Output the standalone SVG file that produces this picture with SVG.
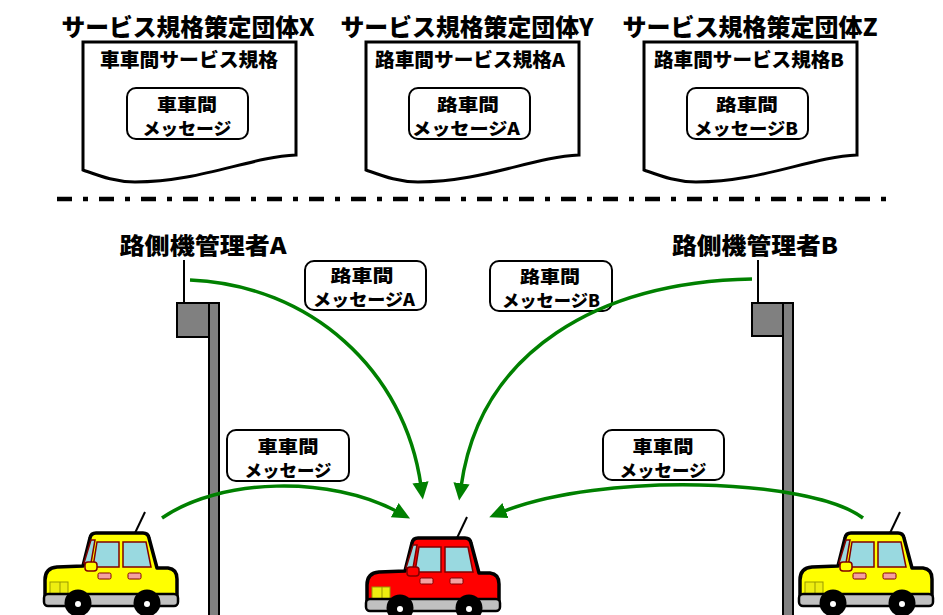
<svg xmlns="http://www.w3.org/2000/svg" xmlns:xlink="http://www.w3.org/1999/xlink" width="943" height="615" viewBox="0 0 943 615">
<style>
text{font-family:"Noto Sans CJK JP","Noto Sans CJK SC",sans-serif;font-weight:900;fill:#000;text-anchor:middle}
.t24{font-size:24px}
.t23{font-size:23px}
.t19{font-size:19px}
.t18{font-size:17px}
.doc{fill:#fff;stroke:#000;stroke-width:3;stroke-linejoin:miter}
.box{fill:#fff;stroke:#000;stroke-width:2}
.pole{fill:#808080;stroke:#000;stroke-width:2}
.arrow{fill:none;stroke:#008000;stroke-width:3.5;marker-end:url(#ah)}
.win{fill:#99D9E0;stroke:#800000;stroke-width:1.5}
.hdl{fill:#F4A0A0;stroke:#800000;stroke-width:1}
</style>
<defs>
<marker id="ah" markerUnits="userSpaceOnUse" markerWidth="20" markerHeight="20" viewBox="0 -8 16 16" refX="3" refY="0" orient="auto">
<path d="M0,-6.5 L14,0 L0,6.5 Z" fill="#008000"/>
</marker>
<g id="car">
<line x1="135" y1="533" x2="145" y2="512" stroke="#000" stroke-width="2"/>
<path d="M45,598 L45,580 Q45,568 57,567 L83,566 L90,538 Q91,533 96,533 L143,533 Q148,533 149,538 L157,568 L168,568 Q177,569 177,579 L177,598 Z" stroke="#000" stroke-width="3.5" stroke-linejoin="round"/>
<polygon class="win" points="84,563 91,540 95,540 91,563"/>
<polygon class="win" points="97,542 119,542 119,567 93,567"/>
<polygon class="win" points="123,542 146,542 151,567 123,567"/>
<rect class="hdl" x="98" y="573" width="13" height="6" rx="1.5"/>
<rect class="hdl" x="128" y="573" width="13" height="6" rx="1.5"/>
<rect x="85" y="562" width="12" height="9" rx="3" stroke="#800000" stroke-width="1.5"/>
<rect x="50" y="582" width="18" height="13" fill="#EEEE10" stroke="#999900" stroke-width="1"/>
<line x1="60" y1="582" x2="60" y2="595" stroke="#999900" stroke-width="1"/>
<rect x="44" y="594" width="134" height="12" rx="4" fill="#C0C0C0" stroke="#000" stroke-width="2.5"/>
<circle cx="78" cy="603" r="13.5" fill="#000"/>
<circle cx="147" cy="603" r="13.5" fill="#000"/>
<circle cx="78" cy="604" r="3" fill="#fff"/>
<circle cx="147" cy="604" r="3" fill="#fff"/>
</g>
</defs>
<rect width="943" height="615" fill="#fff"/>

<g id="org-x">
<text class="t24" x="188" y="36" textLength="253" lengthAdjust="spacingAndGlyphs">サービス規格策定団体X</text>
<path class="doc" d="M83,42 H296 V155 C250,157 200,182 135,182 C115,182 100,176 83,170 Z"/>
<text class="t19" x="189" y="67" textLength="178" lengthAdjust="spacingAndGlyphs">車車間サービス規格</text>
<rect class="box" x="127" y="88" width="121" height="51" rx="9"/>
<text class="t18" x="187" y="111" textLength="60" lengthAdjust="spacingAndGlyphs">車車間</text>
<text class="t18" x="187" y="135" textLength="89" lengthAdjust="spacingAndGlyphs">メッセージ</text>
</g>

<g id="org-y">
<text class="t24" x="467" y="36" textLength="253" lengthAdjust="spacingAndGlyphs">サービス規格策定団体Y</text>
<path class="doc" d="M366,42 H579 V155 C533,157 483,182 418,182 C398,182 383,176 366,170 Z"/>
<text class="t19" x="470" y="67" textLength="190" lengthAdjust="spacingAndGlyphs">路車間サービス規格A</text>
<rect class="box" x="409" y="88" width="121" height="51" rx="9"/>
<text class="t18" x="468" y="111" textLength="62" lengthAdjust="spacingAndGlyphs">路車間</text>
<text class="t18" x="466" y="135" textLength="108" lengthAdjust="spacingAndGlyphs">メッセージA</text>
</g>

<g id="org-z">
<text class="t24" x="750" y="36" textLength="255" lengthAdjust="spacingAndGlyphs">サービス規格策定団体Z</text>
<path class="doc" d="M644,42 H857 V155 C811,157 761,182 696,182 C676,182 661,176 644,170 Z"/>
<text class="t19" x="749" y="67" textLength="190" lengthAdjust="spacingAndGlyphs">路車間サービス規格B</text>
<rect class="box" x="687" y="88" width="121" height="51" rx="9"/>
<text class="t18" x="747" y="111" textLength="62" lengthAdjust="spacingAndGlyphs">路車間</text>
<text class="t18" x="746" y="135" textLength="104" lengthAdjust="spacingAndGlyphs">メッセージB</text>
</g>

<line id="divider" x1="57" y1="199" x2="893" y2="199" stroke="#000" stroke-width="4.5" stroke-dasharray="15 11 5 11"/>

<g id="rsu-a">
<text class="t23" x="203" y="254" textLength="167" lengthAdjust="spacingAndGlyphs">路側機管理者A</text>
<line x1="184" y1="260" x2="184" y2="303" stroke="#000" stroke-width="2"/>
<rect class="pole" x="209" y="303" width="10" height="330"/>
<rect class="pole" x="177" y="303" width="32" height="34"/>
</g>

<g id="rsu-b">
<text class="t23" x="755" y="254" textLength="166" lengthAdjust="spacingAndGlyphs">路側機管理者B</text>
<line x1="758" y1="260" x2="758" y2="303" stroke="#000" stroke-width="2"/>
<rect class="pole" x="783" y="303" width="10" height="330"/>
<rect class="pole" x="752" y="303" width="31" height="33"/>
</g>

<g id="label-r2v-a">
<rect class="box" x="305" y="261" width="121" height="49" rx="9"/>
<text class="t18" x="362" y="282" textLength="63" lengthAdjust="spacingAndGlyphs">路車間</text>
<text class="t18" x="364" y="306" textLength="102" lengthAdjust="spacingAndGlyphs">メッセージA</text>
</g>
<g id="label-r2v-b">
<rect class="box" x="490" y="261" width="122" height="50" rx="9"/>
<text class="t18" x="550" y="283" textLength="60" lengthAdjust="spacingAndGlyphs">路車間</text>
<text class="t18" x="551" y="307" textLength="98" lengthAdjust="spacingAndGlyphs">メッセージB</text>
</g>
<g id="label-v2v-left">
<rect class="box" x="227" y="430" width="122" height="51" rx="9"/>
<text class="t18" x="288" y="453" textLength="61" lengthAdjust="spacingAndGlyphs">車車間</text>
<text class="t18" x="288" y="477" textLength="87" lengthAdjust="spacingAndGlyphs">メッセージ</text>
</g>
<g id="label-v2v-right">
<rect class="box" x="603" y="430" width="121" height="50" rx="9"/>
<text class="t18" x="663" y="453" textLength="61" lengthAdjust="spacingAndGlyphs">車車間</text>
<text class="t18" x="663" y="477" textLength="87" lengthAdjust="spacingAndGlyphs">メッセージ</text>
</g>

<g id="car-left"><use xlink:href="#car" href="#car" fill="#FFFF00"/></g>
<g id="car-center"><use xlink:href="#car" href="#car" fill="#FF0000" transform="translate(322,5)"/></g>
<g id="car-right"><use xlink:href="#car" href="#car" fill="#FFFF00" transform="translate(755,0)"/></g>

<g id="connectors">
<path class="arrow" d="M190,280 C310,285 405,370 421,486"/>
<path class="arrow" d="M752,279 C600,282 480,350 461,487"/>
<path class="arrow" d="M162,518 C220,478 330,475 398,512"/>
<path class="arrow" d="M863,518 C810,478 600,472 502,512"/>
</g>
</svg>
